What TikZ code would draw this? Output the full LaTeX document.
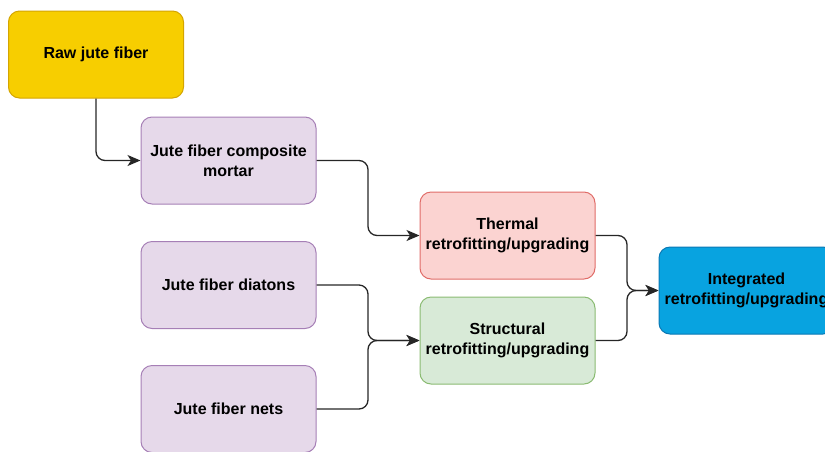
\documentclass[tikz,border=0pt]{standalone}
\usepackage{fontspec}
\setmainfont{Liberation Sans}
\usetikzlibrary{arrows.meta}

\definecolor{rawfill}{HTML}{F7CE00}
\definecolor{rawline}{HTML}{D4A500}
\definecolor{lilacfill}{HTML}{E6D9EA}
\definecolor{lilacline}{HTML}{A67FB6}
\definecolor{redfill}{HTML}{FBD3D1}
\definecolor{redline}{HTML}{E06C68}
\definecolor{greenfill}{HTML}{D8EAD7}
\definecolor{greenline}{HTML}{8ABB72}
\definecolor{bluefill}{HTML}{08A3E0}
\definecolor{blueline}{HTML}{0A78B4}

\tikzset{
  box/.style={rectangle, rounded corners=11pt, minimum width=175pt, minimum height=87pt,
    line width=1pt, align=center, inner sep=2pt,
    font=\fontsize{16}{20}\selectfont\bfseries},
  rawbox/.style={box, fill=rawfill, draw=rawline},
  lilacbox/.style={box, fill=lilacfill, draw=lilacline},
  redbox/.style={box, fill=redfill, draw=redline},
  greenbox/.style={box, fill=greenfill, draw=greenline},
  bluebox/.style={box, fill=bluefill, draw=blueline},
  conn/.style={line width=1.3pt, draw=black!85, rounded corners=9pt,
    -{Stealth[length=13pt,width=11pt,inset=3.5pt]}}
}

\begin{document}
\begin{tikzpicture}[x=1pt,y=-1pt]
  \useasboundingbox (0,0) rectangle (825,451);

  % boxes
  \node[rawbox]   (raw)    at (96,54.5)    {Raw jute fiber};
  \node[lilacbox] (comp)   at (228.5,160.5) {Jute fiber composite\\mortar};
  \node[lilacbox] (diat)   at (228.5,285)  {Jute fiber diatons};
  \node[lilacbox] (nets)   at (228.5,409)  {Jute fiber nets};
  \node[redbox]   (therm)  at (507.5,235.5) {Thermal\\retrofitting/upgrading};
  \node[greenbox] (struct) at (507.5,340.5) {Structural\\retrofitting/upgrading};
  \node[bluebox]  (integ)  at (746.5,290.5) {Integrated\\retrofitting/upgrading};

  % vertical runs of the connectors
  \coordinate (jleft)  at (368,0);
  \coordinate (jright) at (627,0);

  % connectors
  \draw[conn] (raw.south) |- (comp.west);
  \draw[conn] (comp.east) -| (jleft |- therm.west) -- (therm.west);
  \draw[conn] (diat.east) -| (jleft |- struct.west) -- (struct.west);
  \draw[conn] (nets.east) -| (jleft |- struct.west) -- (struct.west);
  \draw[conn] (therm.east) -| (jright |- integ.west) -- (integ.west);
  \draw[conn] (struct.east) -| (jright |- integ.west) -- (integ.west);
\end{tikzpicture}
\end{document}
